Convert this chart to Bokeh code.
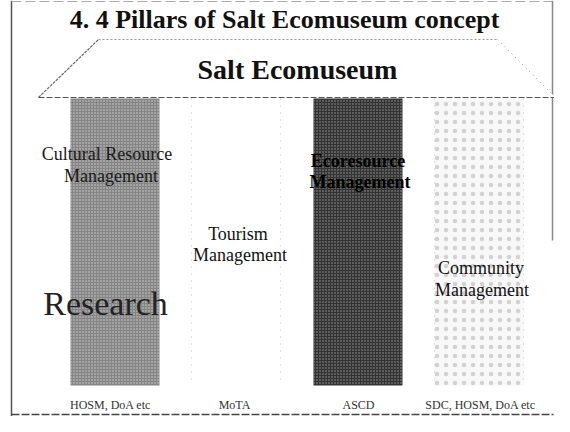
from bokeh.plotting import figure
from bokeh.models import ColumnDataSource, Range1d
from bokeh.core.properties import value
from bokeh.embed import file_html
from bokeh.resources import INLINE

# ---- content ----
title_text = "4. 4 Pillars of Salt Ecomuseum concept"
roof_text = "Salt Ecomuseum"
pillar_line1 = ["Cultural Resource", "Tourism", "Ecoresource", "Community"]
pillar_line2 = ["Management", "Management", "Management", "Management"]
agencies = ["HOSM, DoA etc", "MoTA", "ASCD", "SDC, HOSM, DoA etc"]
foundation_word = "Research"

# ---- layout (image pixel coordinates) ----
pillar_left = [70, 191, 313, 434]
pillar_width = 89
pillar_top, pillar_bottom = 98, 385
label_y1 = [153, 233, 160, 267]
label_y2 = [175, 254, 181, 289]
label_dx1 = [-8, 2, 0, 2]
label_dx2 = [-4, 4, 2, 3]
fills = ["#858585", "#ffffff", "#333333", "#f8f8f8"]
hatch_colors = ["#cfcfcf", "#dddddd", "#9a9a9a", "#d2d2d2"]
hatch_patterns = ["dot", " ", "dot", "dot"]
hatch_scales = [3, 4, 3, 9]
label_colors = ["#1a1a1a", "#111111", "#000000", "#111111"]
label_styles = ["normal", "normal", "bold", "normal"]

SERIF = value("'Liberation Serif', 'Times New Roman', Times, serif")

p = figure(width=554, height=416, output_backend="svg", toolbar_location=None,
           x_range=Range1d(0, 554), y_range=Range1d(416, 0),
           min_border=0, background_fill_color="white")
p.axis.visible = False
p.grid.visible = False
p.outline_line_color = None

# frame lines
p.line([11, 11], [0, 416], line_color="#555555", line_width=1.5)
p.line([11, 553], [414, 414], line_color="#444444", line_width=1.5, line_dash="8 2")
p.line([552, 552], [0, 240], line_color="#888888", line_width=1.5)
p.line([11, 552], [1, 1], line_color="#aaaaaa", line_width=1, line_dash="10 4")

# pillars
centers = [l + pillar_width / 2 for l in pillar_left]
src = ColumnDataSource(dict(
    left=pillar_left, right=[l + pillar_width for l in pillar_left],
    top=[pillar_top] * 4, bottom=[pillar_bottom] * 4,
    fill=fills, hc=hatch_colors, hp=hatch_patterns, hs=hatch_scales))
p.quad(left="left", right="right", top="top", bottom="bottom", source=src,
       fill_color="fill", hatch_color="hc", hatch_pattern="hp", hatch_scale="hs",
       hatch_weight=1, line_color=None)
# faint dotted outlines of the white/light pillars
for i in (1, 3):
    l = pillar_left[i]
    r = l + pillar_width
    p.line([l, l], [pillar_top, pillar_bottom], line_color="#c4c4c4", line_dash="1 6")
    p.line([r, r], [pillar_top, pillar_bottom], line_color="#c4c4c4", line_dash="1 6")

# roof
roof_x = [38, 98, 497, 555]
roof_y = [97, 39, 39, 97]
p.patch(roof_x, roof_y, fill_color="white", line_color=None)
p.line(roof_x[:2], roof_y[:2], line_color="#666666", line_width=1.2, line_dash="3 1")
p.line(roof_x[1:3], roof_y[1:3], line_color="#999999", line_width=1, line_dash="2 2")
p.line(roof_x[2:], roof_y[2:], line_color="#999999", line_width=1, line_dash="1 4")
p.line([roof_x[0], roof_x[3]], [97, 97], line_color="#555555", line_width=1.2, line_dash="6 2")

# titles
p.text(x=[284], y=[19], text=[title_text], text_font=SERIF, text_font_size="26px",
       text_font_style="bold", text_align="center", text_baseline="middle",
       text_color="#111111")
p.text(x=[297], y=[69], text=[roof_text], text_font=SERIF, text_font_size="28px",
       text_font_style="bold", text_align="center", text_baseline="middle",
       text_color="#111111")

# pillar labels
for i in range(4):
    p.text(x=[centers[i] + label_dx1[i]], y=[label_y1[i]], text=[pillar_line1[i]],
           text_font=SERIF, text_font_size="18px", text_font_style=label_styles[i],
           text_align="center", text_baseline="middle", text_color=label_colors[i])
    p.text(x=[centers[i] + label_dx2[i]], y=[label_y2[i]], text=[pillar_line2[i]],
           text_font=SERIF, text_font_size="18px", text_font_style=label_styles[i],
           text_align="center", text_baseline="middle", text_color=label_colors[i])

# foundation word
p.text(x=[105], y=[303], text=[foundation_word], text_font=SERIF, text_font_size="34px",
       text_align="center", text_baseline="middle", text_color="#222222")

# agencies
p.text(x=[110, 234, 358, 480], y=[404] * 4, text=agencies, text_font=SERIF,
       text_font_size="12px", text_align="center", text_baseline="middle",
       text_color="#333333")

open("out.html", "w").write(file_html(p, INLINE))
